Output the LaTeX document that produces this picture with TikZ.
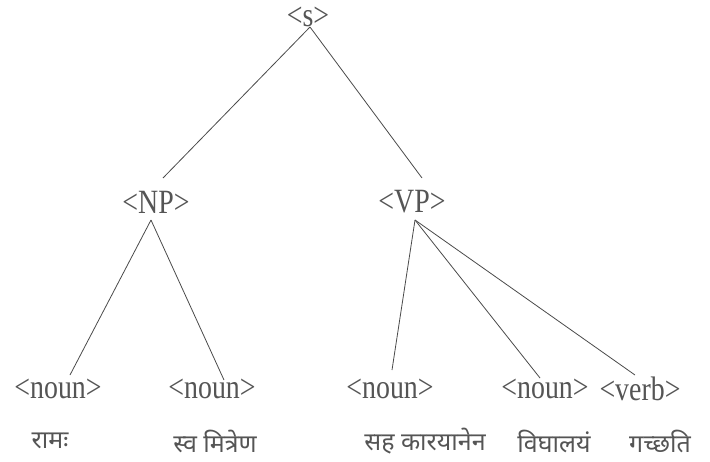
\documentclass[tikz,border=0pt]{standalone}
\usepackage{fontspec}
\setmainfont{Liberation Serif}[FakeStretch=0.82]
\newfontfamily\deva[Script=Devanagari]{Noto Sans}
\usetikzlibrary{calc}
\definecolor{ink}{HTML}{555555}
\definecolor{edge}{HTML}{4A4A4A}
\tikzset{
  cat/.style={inner sep=0pt, text=ink, font=\fontsize{34}{37}\selectfont},
  word/.style={inner sep=0pt, text=ink, font=\deva\fontsize{25}{28}\selectfont},
  branch/.style={draw=edge, line width=0.8pt}
}
\begin{document}
\begin{tikzpicture}[x=1pt,y=-1pt]
\useasboundingbox (0,0) rectangle (710,461);
% category nodes
\node[cat] (s) at (308,17) {<s>};
\node[cat] (np) at (156,202) {<NP>};
\node[cat] (vp) at (412,202) {<VP>};
\node[cat] (n1) at (58,389) {<noun>};
\node[cat] (n2) at (212,389) {<noun>};
\node[cat] (n3) at (390,389) {<noun>};
\node[cat] (n4) at (545,389) {<noun>};
\node[cat] (vb) at (640,389) {<verb>};
% words
\node[word] (w1) at (50,441) {रामः};
\node[word] (w2) at (215,441) {स्व मित्रेण};
\node[word] (w3) at (425,441) {सह कारयानेन};
\node[word] (w4) at (554,441) {विघालयं};
\node[word] (w5) at (660,441) {गच्छति};
% branches
\draw[branch] ($(s)+(2,10)$) -- ($(np)+(7,-24)$);
\draw[branch] ($(s)+(2,10)$) -- ($(vp)+(10,-24)$);
\draw[branch] ($(np)+(-5,18)$) -- ($(n1)+(12,-14)$);
\draw[branch] ($(np)+(-5,18)$) -- ($(n2)+(12,-9)$);
\draw[branch] ($(vp)+(3,18)$) -- ($(n3)+(2,-19)$);
\draw[branch] ($(vp)+(3,18)$) -- ($(n4)+(-5,-11)$);
\draw[branch] ($(vp)+(3,18)$) -- ($(vb)+(-5,-14)$);
\end{tikzpicture}
\end{document}
